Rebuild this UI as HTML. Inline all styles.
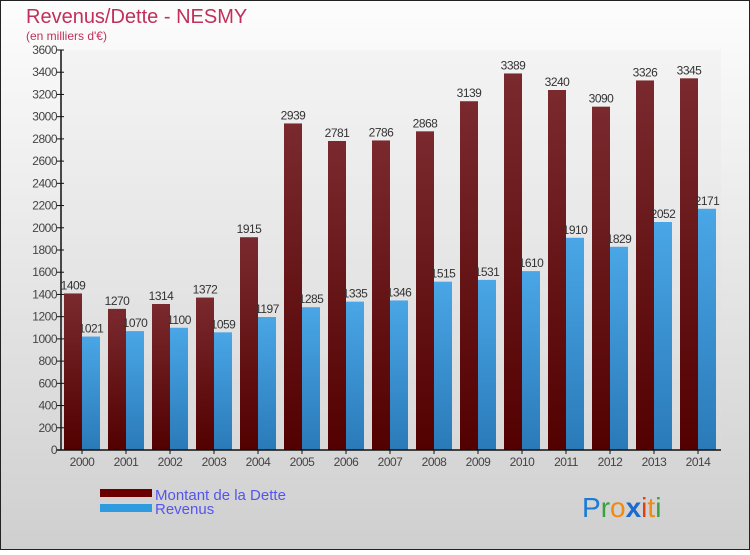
<!DOCTYPE html>
<html><head><meta charset="utf-8"><style>
body{margin:0;width:750px;height:550px;overflow:hidden;font-family:"Liberation Sans",sans-serif}
</style></head><body>
<svg width="750" height="550" xmlns="http://www.w3.org/2000/svg">
<defs>
<linearGradient id="bg" x1="0" y1="0" x2="0" y2="1"><stop offset="0" stop-color="#fdfdfd"/><stop offset="1" stop-color="#cfcfcf"/></linearGradient>
<linearGradient id="gd" x1="0" y1="0" x2="0" y2="1"><stop offset="0" stop-color="#7a2a2e"/><stop offset="1" stop-color="#520000"/></linearGradient>
<linearGradient id="gr" x1="0" y1="0" x2="0" y2="1"><stop offset="0" stop-color="#4aa6e6"/><stop offset="1" stop-color="#2a7ab8"/></linearGradient>
</defs>
<rect x="0.5" y="0.5" width="749" height="549" fill="url(#bg)" stroke="#222"/>
<text x="26" y="23" font-size="20" fill="#c0305a">Revenus/Dette - NESMY</text>
<text x="26" y="40" font-size="12" fill="#c0305a">(en milliers d'€)</text>
<g id="plot"></g>
<rect x="100" y="489" width="52" height="8" fill="#6a0000"/>
<text x="155" y="500" font-size="15" fill="#5555ee">Montant de la Dette</text>
<rect x="100" y="504" width="52" height="8" fill="#2e9ae0"/>
<text x="155" y="514" font-size="15" fill="#5555ee">Revenus</text>
<text x="582" y="517" font-size="28"><tspan fill="#1a7ad4">P</tspan><tspan fill="#3aa040">r</tspan><tspan fill="#f08a10">o</tspan><tspan fill="#1a6ad0" font-weight="bold">x</tspan><tspan fill="#e04010">i</tspan><tspan fill="#f08a10">t</tspan><tspan fill="#3aa040">i</tspan></text>
</svg>
<script>
const years=["2000","2001","2002","2003","2004","2005","2006","2007","2008","2009","2010","2011","2012","2013","2014"];
const dette=[1409,1270,1314,1372,1915,2939,2781,2786,2868,3139,3389,3240,3090,3326,3345];
const revenus=[1021,1070,1100,1059,1197,1285,1335,1346,1515,1531,1610,1910,1829,2052,2171];
const ticks=[0,200,400,600,800,1000,1200,1400,1600,1800,2000,2200,2400,2600,2800,3000,3200,3400,3600];
const NS="http://www.w3.org/2000/svg";
const g=document.getElementById('plot');
const x0=61,x1=721,y0=450,y1=50,maxV=3600;
const gw=(x1-x0)/years.length;
const yS=v=>y0-(v/maxV)*(y0-y1);
const xS=i=>x0+i*gw;
function mk(t,a){const e=document.createElementNS(NS,t);for(const k in a)e.setAttribute(k,a[k]);g.appendChild(e);return e;}
let bgp=mk('rect',{x:x0,y:y1,width:x1-x0,height:y0-y1,fill:'#e2e2e2',opacity:0.2});


ticks.forEach(v=>{
 const y=yS(v);
 let l=mk('line',{x1:x0-4,x2:x0+3,y1:y,y2:y,stroke:'#111'});
 
 
 let t=mk('text',{x:x0-4,y:y+4,'font-size':12,'text-anchor':'end',fill:'#444','letter-spacing':'-0.5'});
 t.textContent=v;
 
 
});
years.forEach((yr,i)=>{
 const gx=xS(i);
 const yd=yS(dette[i]),yr2=yS(revenus[i]);
 let b=mk('rect',{x:gx+3,y:yd,width:18,height:y0-yd,fill:'url(#gd)'});
 
 
 let r=mk('rect',{x:gx+21,y:yr2,width:18,height:y0-yr2,fill:'url(#gr)'});
 
 
 let t1=mk('text',{x:gx+12,y:yd-4,'font-size':12,'text-anchor':'middle',fill:'#333','letter-spacing':'-0.5'});
 t1.textContent=dette[i];
 
 
 let t2=mk('text',{x:gx+30,y:yr2-4,'font-size':12,'text-anchor':'middle',fill:'#333','letter-spacing':'-0.5'});
 t2.textContent=revenus[i];
 
 
 let tk=mk('line',{x1:gx+21,x2:gx+21,y1:y0,y2:y0+4,stroke:'#111'});
 
 
 let xl=mk('text',{x:gx+21,y:y0+16,'font-size':12,'text-anchor':'middle',fill:'#444','letter-spacing':'-0.5'});
 xl.textContent=yr;
 
 
});
let ya=mk('line',{x1:x0,x2:x0,y1:y1,y2:y0,stroke:'#111','stroke-width':1.5});


let xa=mk('line',{x1:x0-4,x2:x1,y1:y0,y2:y0,stroke:'#111','stroke-width':1.5});


</script>
</body></html>
